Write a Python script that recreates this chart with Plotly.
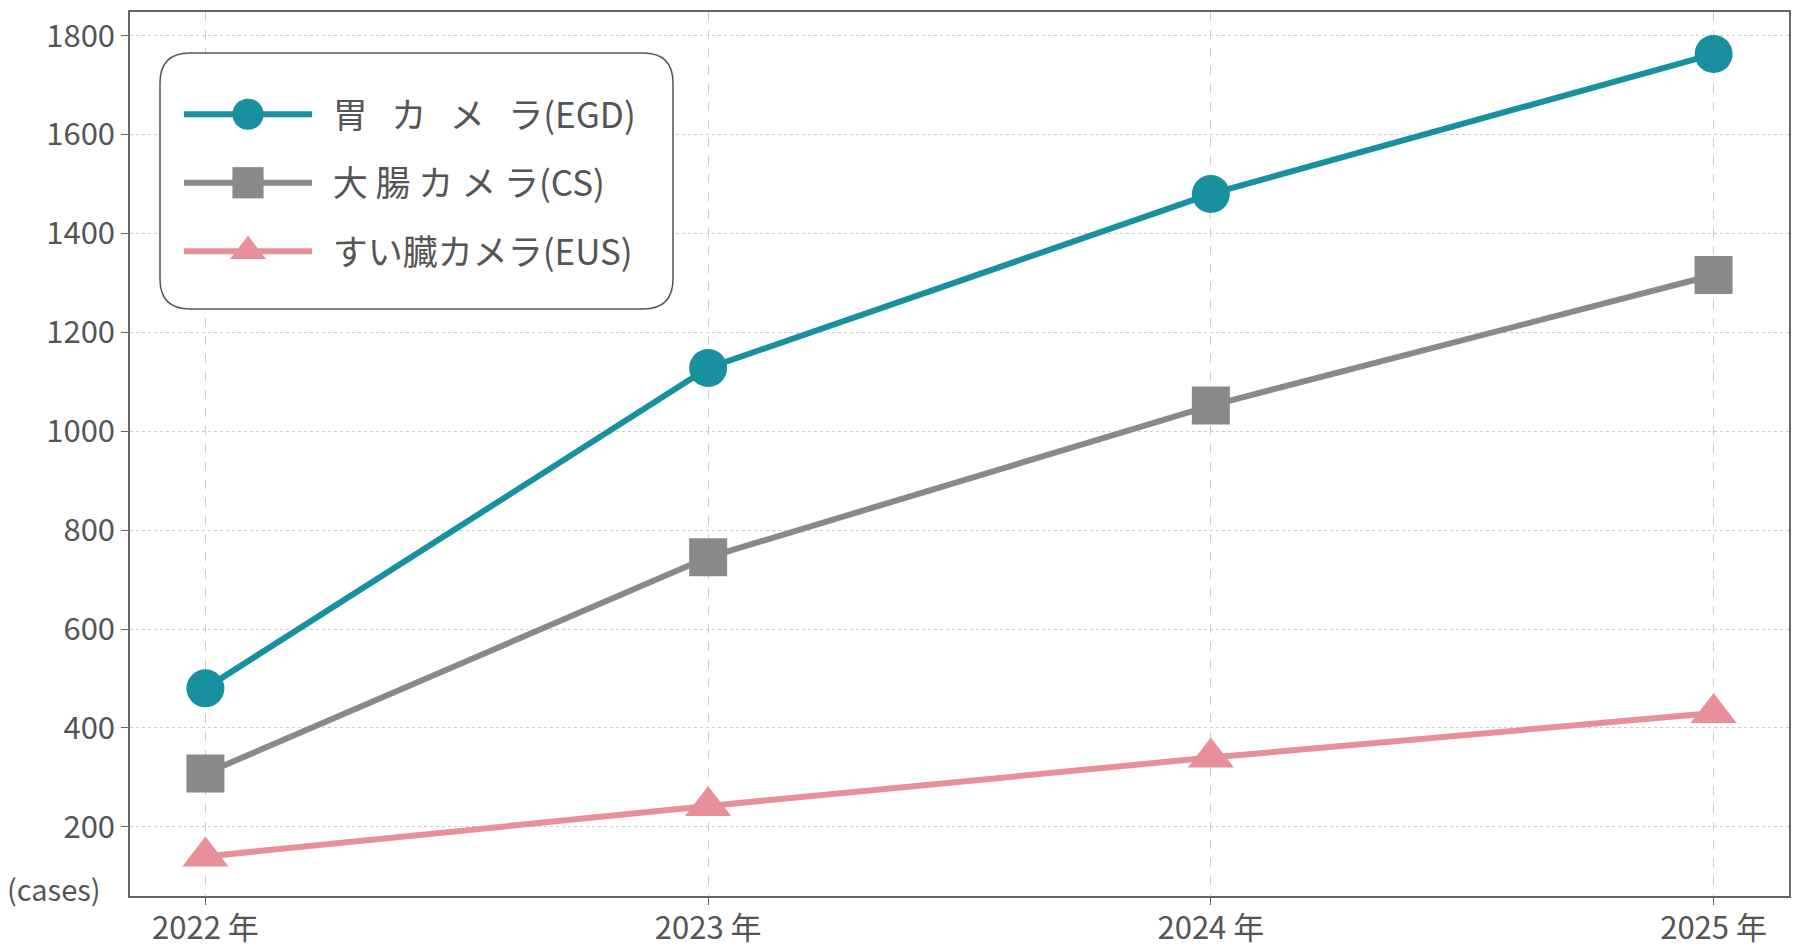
import plotly.graph_objects as go

years = ["2022 年", "2023 年", "2024 年", "2025 年"]
series_names = ["胃   カ   メ   ラ(EGD)", "大 腸 カ メ ラ(CS)", "すい臓カメラ(EUS)"]
egd = [480, 1128, 1480, 1763]
cs = [308, 745, 1052, 1316]
eus = [140, 242, 340, 430]
y_ticks = [200, 400, 600, 800, 1000, 1200, 1400, 1600, 1800]

colors = ["#18909f", "#898989", "#e8909a"]
symbols = ["circle", "square", "triangle-up"]
values = [egd, cs, eus]

FONT = "Noto Sans CJK JP"
W, H = 1798, 949
L, R, T, B = 130, 9, 12, 53

fig = go.Figure()
for i, (name, vals) in enumerate(zip(series_names, values)):
    fig.add_trace(go.Scatter(
        x=years, y=vals, name="  " + name, mode="lines+markers",
        legendgroup=f"g{i}",
        line=dict(color=colors[i], width=6),
        marker=dict(symbol=symbols[i], size=38 if i < 2 else 40, color=colors[i]),
    ))

pw = W - L - R
ph = H - T - B
def px_to_paper_x(px):
    return (px - L) / pw
def px_to_paper_y(py):
    return (H - B - py) / ph

fig.update_layout(
    width=W, height=H,
    margin=dict(l=L, r=R, t=T, b=B, pad=0),
    paper_bgcolor="white", plot_bgcolor="white",
    font=dict(family=FONT, size=31, color="#555555"),
    showlegend=True,
    legend=dict(
        x=px_to_paper_x(179), y=px_to_paper_y(85), xanchor="left", yanchor="top",
        bgcolor="rgba(0,0,0,0)", borderwidth=0,
        font=dict(family=FONT, size=35, color="#555555"),
        tracegroupgap=20, itemwidth=128, itemsizing="trace",
    ),
    xaxis=dict(
        type="category", range=[-0.15, 3.15], automargin=False,
        showline=True, linecolor="#666666", linewidth=1.5, mirror=True,
        ticks="outside", ticklen=7, tickcolor="#666666", tickwidth=1.2,
        ticklabelstandoff=-3,
        showgrid=True, gridcolor="#cccccc", gridwidth=1, griddash="dash",
        tickfont=dict(family=FONT, size=31, color="#555555"),
        zeroline=False,
    ),
    yaxis=dict(
        range=[60, 1848], tickvals=y_ticks, automargin=False,
        showline=True, linecolor="#666666", linewidth=1.5, mirror=True,
        ticks="outside", ticklen=7, tickcolor="#666666", tickwidth=1.2,
        showgrid=True, gridcolor="#cccccc", gridwidth=1, griddash="dot",
        tickfont=dict(family=FONT, size=31, color="#555555"),
        zeroline=False,
    ),
    annotations=[dict(
        text="(cases)", xref="paper", yref="paper", x=0, y=0,
        xanchor="right", yanchor="middle", xshift=-27, yshift=8,
        showarrow=False, font=dict(family=FONT, size=29, color="#555555"),
    )],
)

# rounded legend frame
x0, y0, x1, y1, r = 160, 53, 673, 309, 30
def P(px, py):
    return f"{px_to_paper_x(px):.5f},{px_to_paper_y(py):.5f}"
path = (f"M {P(x0 + r, y0)} L {P(x1 - r, y0)} Q {P(x1, y0)} {P(x1, y0 + r)} "
        f"L {P(x1, y1 - r)} Q {P(x1, y1)} {P(x1 - r, y1)} "
        f"L {P(x0 + r, y1)} Q {P(x0, y1)} {P(x0, y1 - r)} "
        f"L {P(x0, y0 + r)} Q {P(x0, y0)} {P(x0 + r, y0)} Z")
fig.layout.shapes = [dict(type="path", xref="paper", yref="paper", path=path,
                          line=dict(color="#555555", width=1.5), fillcolor="white",
                          layer="above")]

post = """
document.documentElement.style.margin = '0';
document.body.style.margin = '0';
document.body.style.overflow = 'hidden';
var gd = document.getElementById('{plot_id}');
function bigLegendMarkers() {
  gd.querySelectorAll('.legend .legendpoints path.scatterpts').forEach(function(p) {
    var t = p.getAttribute('transform') || '';
    if (t.indexOf('scale') < 0) { p.setAttribute('transform', t + ' scale(1.95)'); }
  });
}
bigLegendMarkers();
gd.on('plotly_afterplot', bigLegendMarkers);
"""
fig.write_html("out.html", post_script=post, config={"displayModeBar": False})
